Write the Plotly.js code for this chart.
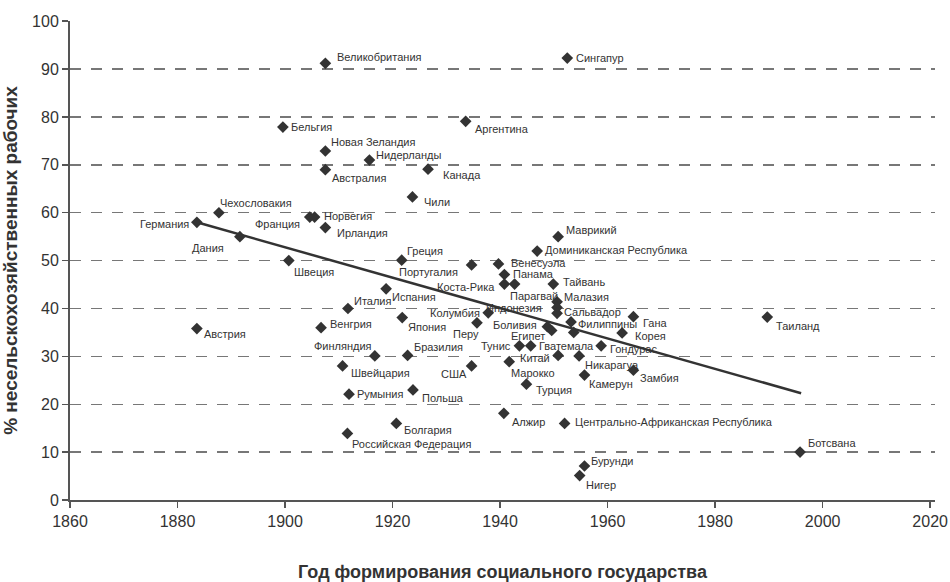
<!DOCTYPE html>
<html>
<head>
<meta charset="utf-8">
<script src="https://cdn.plot.ly/plotly-3.0.1.min.js"></script>
<style>html,body{margin:0;padding:0;background:#fff;}#chart{width:950px;height:582px;}</style>
</head>
<body>
<div id="chart"></div>
<script>
const countries = ["Великобритания","Сингапур","Бельгия","Аргентина","Новая Зеландия","Нидерланды","Австралия","Канада","Чили","Чехословакия","Германия","Франция","Норвегия","Ирландия","Дания","Швеция","Греция","Португалия","Венесуэла","Панама","Коста-Рика","Парагвай","Тайвань","Маврикий","Доминиканская Республика","Испания","Италия","Венгрия","Австрия","Малазия","Индонезия","Сальвадор","Колумбия","Япония","Перу","Боливия","Египет","Филиппины","","Гана","Корея","Тунис","Гватемала","Гондурас","Таиланд","Финляндия","Бразилия","Швейцария","США","Марокко","Китай","Никарагуа","Замбия","Камерун","Турция","Румыния","Польша","Алжир","Центрально-Африканская Республика","Болгария","Российская Федерация","Бурунди","Нигер","Ботсвана"];
const years = [1907.5,1952.5,1899.6,1933.6,1907.5,1915.7,1907.5,1926.6,1923.7,1887.7,1883.6,1904.6,1905.5,1907.5,1891.6,1900.7,1921.7,1934.7,1939.7,1940.8,1940.8,1942.7,1949.9,1950.8,1946.9,1918.8,1911.7,1906.7,1883.6,1950.6,1950.6,1950.6,1937.8,1921.8,1935.7,1948.8,1949.6,1953.2,1953.7,1964.8,1962.7,1943.6,1945.7,1958.8,1989.7,1916.7,1922.8,1910.7,1934.7,1941.7,1950.8,1954.7,1964.8,1955.7,1944.9,1911.9,1923.8,1940.7,1952.0,1920.7,1911.6,1955.7,1954.8,1995.8];
const shares = [91.2,92.3,77.9,79.1,72.9,71.0,69.0,69.1,63.3,60.0,58.0,59.1,59.1,56.9,55.0,50.0,50.1,49.1,49.3,47.1,45.1,45.1,45.1,55.0,52.0,44.1,40.0,36.0,35.8,41.4,40.2,39.0,39.1,38.1,37.0,36.2,35.4,37.2,35.0,38.3,34.9,32.2,32.2,32.2,38.2,30.1,30.2,28.0,28.0,28.9,30.2,30.1,27.1,26.1,24.2,22.1,23.0,18.1,16.0,16.0,13.9,7.1,5.1,10.0];
const trendYears = [1883.6, 1996.0];
const trendShares = [58.0, 22.3];
const xTicks = [1860,1880,1900,1920,1940,1960,1980,2000,2020];
const yTicks = [0,10,20,30,40,50,60,70,80,90,100];

// label placement (pixels from the marker): side, dx, dy (dy positive = down)
const labelSide = ["l","l","l","l","l","l","l","l","l","l","r","r","l","l","r","l","l","r","l","l","r","l","l","l","l","l","l","l","l","l","r","l","r","l","r","r","r","l","l","l","l","r","l","l","l","r","l","l","r","l","r","l","l","l","l","l","l","l","l","l","l","l","l","l"];
const labelDx = [10,7,6,7,4,5,5,13,10,-1,-6,-8,7,10,-14,3,3,-12,11,7,-7,-7,8,6,6,4,4,7,5,5,-13,5,-6,4,4,-8,-5,5,0,8,11,-6,6,7,7,-1,4,6,-3,0,-6,4,5,3,8,6,7,6,8,6,3,5,4,6];
const labelDy = [-6,0,0,8,-9,-5,8,6,5,-10,2,7,-1,5,11,11,-9,7,-1,-1,3,12,-2,-7,-1,8,-8,-4,5,-5,0,-1,0,9,11,-2,5,2,0,6,3,0,0,3,9,-10,-8,7,8,11,3,9,8,9,6,0,8,9,-1,7,11,-5,9,-9];

const FONT = "Liberation Sans, Arial, sans-serif";
const dark = "#333333";

const traces = [
  {
    x: trendYears, y: trendShares, mode: "lines", type: "scatter",
    line: {color: dark, width: 2.5}, hoverinfo: "skip", showlegend: false
  },
  {
    x: years, y: shares, mode: "markers", type: "scatter",
    marker: {symbol: "diamond", size: 9, color: dark},
    cliponaxis: false, showlegend: false
  }
];

const annotations = countries.map((c, i) => ({
  x: years[i], y: shares[i], xref: "x", yref: "y",
  text: c, showarrow: false,
  xanchor: labelSide[i] === "l" ? "left" : "right", yanchor: "middle",
  xshift: labelDx[i], yshift: -labelDy[i],
  font: {family: FONT, size: 11, color: dark}
})).filter(a => a.text !== "");

const layout = {
  width: 950, height: 582,
  margin: {l: 70, r: 15, t: 21, b: 82},
  paper_bgcolor: "#fff", plot_bgcolor: "#fff",
  font: {family: FONT, color: dark},
  annotations: annotations,
  xaxis: {
    range: [1860, 2020.9], tickvals: xTicks, ticktext: xTicks.map(String),
    showgrid: false, zeroline: false,
    showline: true, linecolor: "#555", linewidth: 2,
    ticks: "outside", ticklen: 6, tickcolor: "#555", tickwidth: 1.5,
    ticklabeloverflow: "allow",
    tickfont: {family: FONT, size: 16, color: dark},
    title: {text: "<b>Год формирования социального государства</b>", font: {family: FONT, size: 18, color: dark}, standoff: 36}
  },
  yaxis: {
    range: [0, 100.05], tickvals: yTicks,
    showgrid: true, gridcolor: "#777", gridwidth: 1.5, griddash: "11px,10px",
    zeroline: false,
    showline: true, linecolor: "#555", linewidth: 2,
    ticks: "outside", ticklen: 6, tickcolor: "#555", tickwidth: 1.5,
    tickfont: {family: FONT, size: 16, color: dark},
    title: {text: "<b>% несельскохозяйственных рабочих</b>", font: {family: FONT, size: 19, color: dark}, standoff: 10}
  }
};

Plotly.newPlot("chart", traces, layout, {staticPlot: true, displayModeBar: false});
</script>
</body>
</html>
